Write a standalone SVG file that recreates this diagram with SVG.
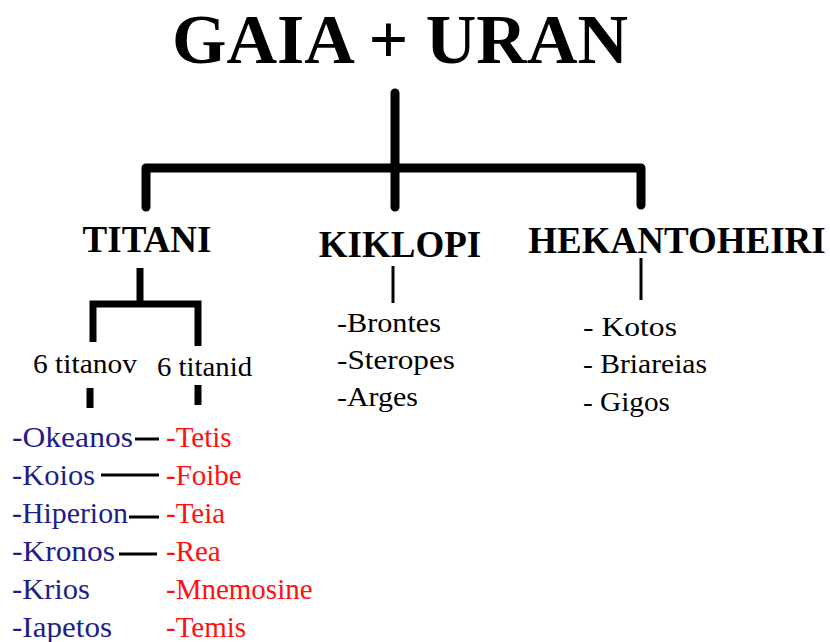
<svg xmlns="http://www.w3.org/2000/svg" width="830" height="642" viewBox="0 0 830 642">
<style>
text{font-family:"Liberation Serif","Times New Roman",serif;font-weight:normal;fill:#000}
.title{font-size:70px;font-weight:bold}
.head{font-size:37px;font-weight:bold}
.item{font-size:28px}
.list{font-size:29px}
.blue{fill:#1e1e88}
.red{fill:#ff1010}
.thick{stroke:#000;stroke-width:9;fill:none;stroke-linecap:round;stroke-linejoin:round}
.mid{stroke:#000;stroke-width:7;fill:none;stroke-linejoin:miter}
.thin{stroke:#000;stroke-width:3;fill:none}
</style>
<rect width="830" height="642" fill="#fff"/>
<g id="connectors">
<path class="thick" d="M395,93 V207 M146,207 V168 H641 V205"/>
<path class="mid" d="M140,268 V304 M93,342 V304 H198 V346"/>
<path class="mid" d="M90,388 V408 M198,385 V405"/>
<path class="thin" d="M393,266 V303 M641,258 V300"/>
<path class="thin" d="M135,439 H159 M101,475 H159 M129,517 H159 M119,554 H157"/>
</g>
<g id="root"><text class="title" x="400" y="63" text-anchor="middle">GAIA + URAN</text></g>
<g id="titani"><text class="head" x="147" y="252" text-anchor="middle">TITANI</text></g>
<g id="kiklopi"><text class="head" x="400" y="257" text-anchor="middle">KIKLOPI</text></g>
<g id="hekantoheiri"><text class="head" x="677" y="253" text-anchor="middle">HEKANTOHEIRI</text></g>
<g id="titanov"><text class="item" x="33" y="373" textLength="104" lengthAdjust="spacingAndGlyphs">6 titanov</text></g>
<g id="titanid"><text class="item" x="157" y="376" textLength="95" lengthAdjust="spacingAndGlyphs">6 titanid</text></g>
<g id="kiklopi-list">
<text class="item" x="337" y="332" textLength="104" lengthAdjust="spacingAndGlyphs">-Brontes</text>
<text class="item" x="337" y="369" textLength="118" lengthAdjust="spacingAndGlyphs">-Steropes</text>
<text class="item" x="337" y="406" textLength="81" lengthAdjust="spacingAndGlyphs">-Arges</text>
</g>
<g id="hekantoheiri-list">
<text class="item" x="583" y="336" textLength="94" lengthAdjust="spacingAndGlyphs">- Kotos</text>
<text class="item" x="583" y="373" textLength="124" lengthAdjust="spacingAndGlyphs">- Briareias</text>
<text class="item" x="583" y="411" textLength="87" lengthAdjust="spacingAndGlyphs">- Gigos</text>
</g>
<g id="titani-list">
<text class="list blue" x="12" y="447" textLength="121" lengthAdjust="spacingAndGlyphs">-Okeanos</text>
<text class="list blue" x="12" y="485" textLength="83" lengthAdjust="spacingAndGlyphs">-Koios</text>
<text class="list blue" x="12" y="523" textLength="116" lengthAdjust="spacingAndGlyphs">-Hiperion</text>
<text class="list blue" x="12" y="561" textLength="103" lengthAdjust="spacingAndGlyphs">-Kronos</text>
<text class="list blue" x="12" y="599" textLength="78" lengthAdjust="spacingAndGlyphs">-Krios</text>
<text class="list blue" x="12" y="637" textLength="100" lengthAdjust="spacingAndGlyphs">-Iapetos</text>
</g>
<g id="titanid-list">
<text class="list red" x="166" y="447">-Tetis</text>
<text class="list red" x="166" y="485">-Foibe</text>
<text class="list red" x="166" y="523">-Teia</text>
<text class="list red" x="166" y="561">-Rea</text>
<text class="list red" x="166" y="599">-Mnemosine</text>
<text class="list red" x="166" y="637">-Temis</text>
</g>
</svg>
